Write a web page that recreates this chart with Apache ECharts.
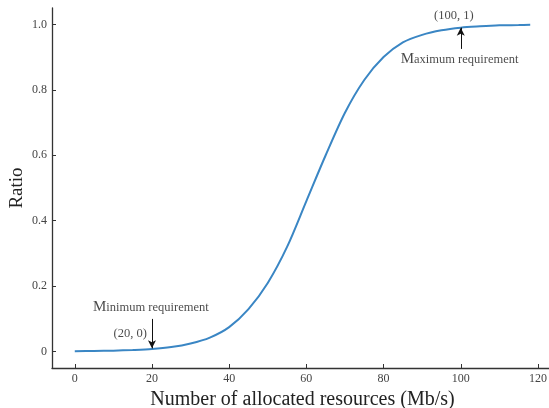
<!DOCTYPE html>
<html>
<head>
<meta charset="utf-8">
<script src="https://cdn.jsdelivr.net/npm/echarts@6/dist/echarts.min.js"></script>
<style>html,body{margin:0;padding:0;background:#fff}#c{width:549px;height:408px}</style>
</head>
<body>
<div id="c"></div>
<script>
const xValues = [0, 5, 10, 15, 20, 25, 30, 35, 40, 45, 50, 55, 60, 65, 70, 75, 80, 85, 90, 95, 100, 105, 110, 115, 118];
const ratioValues = [0.001, 0.002, 0.003, 0.005, 0.008, 0.014, 0.025, 0.043, 0.075, 0.13, 0.21, 0.32, 0.46, 0.60, 0.73, 0.83, 0.90, 0.945, 0.968, 0.982, 0.99, 0.994, 0.997, 0.998, 0.999];
const xTicks = [0, 20, 40, 60, 80, 100, 120];
const yTicks = [0, 0.2, 0.4, 0.6, 0.8, 1.0];
const xTitle = 'Number of allocated resources (Mb/s)';
const yTitle = 'Ratio';
const minPoint = [20, 0.01];
const maxPoint = [100, 0.99];

const font = '"Liberation Serif", "Times New Roman", serif';
const chart = echarts.init(document.getElementById('c'), null, {renderer: 'canvas'});

const textItems = [
  {value: [19.7, 0.135], kind: 'rich', first: 'M', rest: 'inimum requirement'},
  {value: [18.8, 0.055], kind: 'plain', text: '(20, 0)', label: {position: 'left', distance: 0}},
  {value: [98.2, 1.027], kind: 'plain', text: '(100, 1)'},
  {value: [99.7, 0.893], kind: 'rich', first: 'M', rest: 'aximum requirement'}
];

chart.setOption({
  animation: false,
  grid: {left: 52, top: 8, width: 501, height: 360, outerBoundsMode: 'none', containLabel: false},
  xAxis: {
    type: 'value', min: -5.9, max: 123.9,
    name: xTitle, nameLocation: 'middle', nameGap: 19,
    nameTextStyle: {fontFamily: font, fontSize: 20, color: '#222'},
    axisLine: {show: true, onZero: false, lineStyle: {color: '#333', width: 1.3}},
    axisTick: {show: true, inside: true, length: 4, customValues: xTicks, lineStyle: {color: '#333', width: 1}},
    axisLabel: {customValues: xTicks, fontFamily: font, fontSize: 12, color: '#444', margin: 5},
    splitLine: {show: false}
  },
  yAxis: {
    type: 'value', min: -0.05, max: 1.05,
    name: yTitle, nameLocation: 'middle', nameGap: 25, nameMoveOverlap: false,
    nameTextStyle: {fontFamily: font, fontSize: 19, color: '#222'},
    axisLine: {show: true, onZero: false, lineStyle: {color: '#333', width: 1.3}},
    axisTick: {show: true, inside: true, length: 4, customValues: yTicks, lineStyle: {color: '#333', width: 1}},
    axisLabel: {customValues: yTicks, fontFamily: font, fontSize: 12, color: '#444', margin: 5,
      formatter: v => v === 0 ? '0' : v.toFixed(1)},
    splitLine: {show: false}
  },
  series: [
    {
      type: 'line',
      data: xValues.map((x, i) => [x, ratioValues[i]]),
      smooth: 0.3,
      showSymbol: false,
      lineStyle: {color: '#3a86c4', width: 2},
      markLine: {
        silent: true,
        symbol: ['none', 'arrow'],
        symbolSize: [6, 8],
        label: {show: false},
        lineStyle: {color: '#111', width: 1, type: 'solid'},
        itemStyle: {color: '#111'},
        data: [
          [{coord: [minPoint[0], 0.10]}, {coord: minPoint}],
          [{coord: [maxPoint[0], 0.925]}, {coord: maxPoint}]
        ]
      }
    },
    {
      type: 'scatter',
      symbolSize: 1,
      itemStyle: {color: 'transparent'},
      silent: true,
      data: textItems,
      label: {
        show: true,
        position: 'inside',
        fontFamily: font,
        color: '#111',
        formatter: p => p.data.kind === 'rich' ? '{b|' + p.data.first + '}{a|' + p.data.rest + '}' : '{a|' + p.data.text + '}',
        rich: {
          a: {fontFamily: font, fontSize: 12.5, color: '#1a1a1a'},
          b: {fontFamily: font, fontSize: 15, color: '#1a1a1a'}
        }
      }
    }
  ]
});
</script>
</body>
</html>
